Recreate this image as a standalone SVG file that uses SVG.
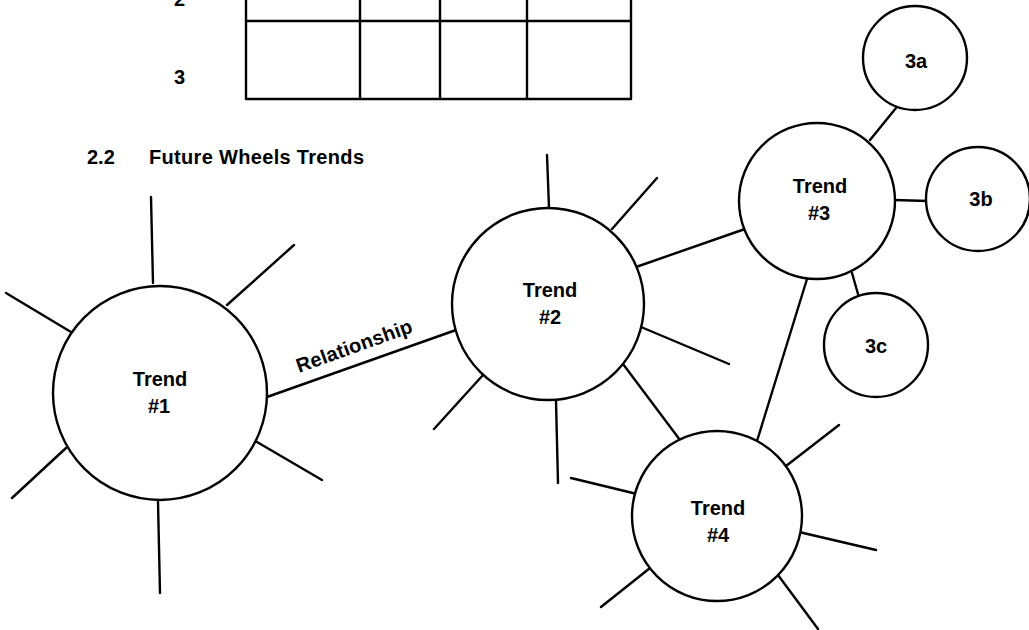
<svg xmlns="http://www.w3.org/2000/svg" width="1029" height="630" viewBox="0 0 1029 630">
<style>
.ln{stroke:#000;stroke-width:2.4;fill:none;stroke-linecap:round}
.nd{stroke:#000;stroke-width:2.4;fill:#fff}
.t{font-family:"Liberation Sans",Arial,Helvetica,sans-serif;font-weight:bold;font-size:20px;fill:#000}
.c{text-anchor:middle}
</style>
<rect width="1029" height="630" fill="#fff"/>
<g id="table">
<path class="ln" d="M246,0V99M360,0V99M440,0V99M527,0V99M631,0V99M246,21H631M246,99H631"/>
<text class="t" x="174" y="6">2</text>
<text class="t" x="174" y="84">3</text>
</g>
<text id="title" class="t" x="87" y="164">2.2</text>
<text class="t" x="149" y="164" textLength="215" lengthAdjust="spacing">Future Wheels Trends</text>
<g id="connectors">
<path class="ln" d="M151,197L153,283M294,245L227,305M6,293L71,332M257,442L322,480M66,448L12,498M158,502L160,593"/>
<path class="ln" d="M267,397L456,330"/>
<path class="ln" d="M547,155L549,208M657,178L612,229M641,327L729,364M483,375L434,429M556,401L558,483"/>
<path class="ln" d="M636,267L745,229M623,364L680,440"/>
<path class="ln" d="M896,108L870,140M894,200L928,201M852,273L858,294M807,279L757,441"/>
<path class="ln" d="M839,425L786,466M571,478L637,494M799,532L876,550M650,568L601,607M778,575L818,629"/>
<text class="t" x="299" y="373" textLength="122" lengthAdjust="spacing" transform="rotate(-19.7 299 373)">Relationship</text>
</g>
<g id="trend1">
<circle class="nd" cx="160" cy="393" r="107"/>
<text class="t c" x="160" y="386">Trend</text>
<text class="t c" x="159" y="413">#1</text>
</g>
<g id="trend2">
<circle class="nd" cx="548" cy="304" r="96"/>
<text class="t c" x="550" y="297">Trend</text>
<text class="t c" x="550" y="324">#2</text>
</g>
<g id="trend3">
<circle class="nd" cx="817" cy="201" r="78"/>
<text class="t c" x="820" y="193">Trend</text>
<text class="t c" x="819" y="220">#3</text>
</g>
<g id="node3a">
<circle class="nd" cx="915" cy="58" r="52"/>
<text class="t c" x="916" y="68">3a</text>
</g>
<g id="node3b">
<circle class="nd" cx="978" cy="199" r="52"/>
<text class="t c" x="981" y="206">3b</text>
</g>
<g id="node3c">
<circle class="nd" cx="876" cy="345" r="52"/>
<text class="t c" x="876" y="353">3c</text>
</g>
<g id="trend4">
<circle class="nd" cx="717" cy="516" r="85"/>
<text class="t c" x="718" y="515">Trend</text>
<text class="t c" x="718" y="542">#4</text>
</g>
</svg>
